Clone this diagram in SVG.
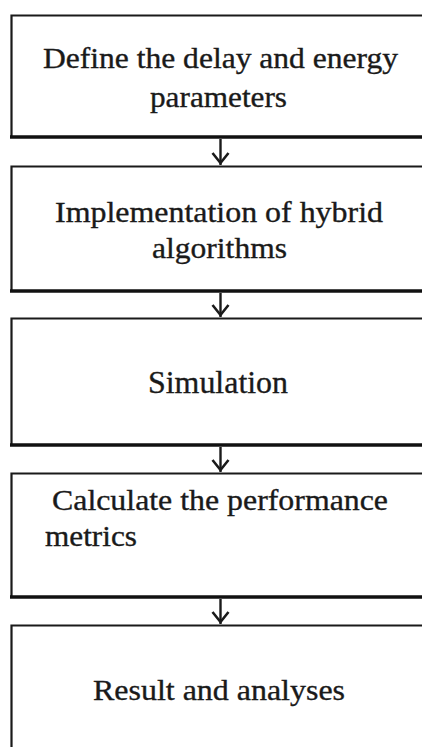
<svg xmlns="http://www.w3.org/2000/svg" width="422" height="747" viewBox="0 0 422 747">
<defs>
<style>
.bx{fill:#fff;stroke:#1a1a1a;stroke-width:2.2}
.bb{stroke:#111;stroke-width:3.6;fill:none}
.t{font-family:"Liberation Serif","Times New Roman",serif;font-size:30px;fill:#1a1a1a;stroke:#1a1a1a;stroke-width:0.35}
.c{text-anchor:middle}
.cn line{stroke:#1a1a1a;stroke-width:2.4}
.cn polyline{stroke:#1a1a1a;stroke-width:2.6;fill:none}
</style>
</defs>
<rect width="422" height="747" fill="#fff"/>
<g id="n1">
<path class="bx" d="M424,15.5 H11.5 V137"/>
<line class="bb" x1="10" y1="137" x2="424" y2="137"/>
<text class="t c" x="220.5" y="68" textLength="355" lengthAdjust="spacingAndGlyphs">Define the delay and energy</text>
<text class="t c" x="218.5" y="107" textLength="137" lengthAdjust="spacingAndGlyphs">parameters</text>
</g>
<g id="n2">
<path class="bx" d="M424,166.5 H11.5 V291"/>
<line class="bb" x1="10" y1="291" x2="424" y2="291"/>
<text class="t c" x="219" y="222" textLength="328" lengthAdjust="spacingAndGlyphs">Implementation of hybrid</text>
<text class="t c" x="219.5" y="258" textLength="135" lengthAdjust="spacingAndGlyphs">algorithms</text>
</g>
<g id="n3">
<path class="bx" d="M424,318.5 H11.5 V445"/>
<line class="bb" x1="10" y1="445" x2="424" y2="445"/>
<text class="t c" x="218" y="393" style="font-size:32px" textLength="140" lengthAdjust="spacingAndGlyphs">Simulation</text>
</g>
<g id="n4">
<path class="bx" d="M424,473.5 H11.5 V597"/>
<line class="bb" x1="10" y1="597" x2="424" y2="597"/>
<text class="t" x="52" y="510" textLength="336" lengthAdjust="spacingAndGlyphs">Calculate the performance</text>
<text class="t" x="45" y="546" textLength="92" lengthAdjust="spacingAndGlyphs">metrics</text>
</g>
<g id="n5">
<path class="bx" d="M424,625.5 H11.5 V750"/>
<text class="t c" x="219" y="700" textLength="252" lengthAdjust="spacingAndGlyphs">Result and analyses</text>
</g>
<g id="connectors" class="cn">
<line x1="220.5" y1="139" x2="220.5" y2="165"/>
<polyline points="212.5,153 220.5,163 228.5,153"/>
<line x1="220.5" y1="293" x2="220.5" y2="317"/>
<polyline points="212.5,305 220.5,315 228.5,305"/>
<line x1="220.5" y1="447" x2="220.5" y2="472"/>
<polyline points="212.5,460 220.5,470 228.5,460"/>
<line x1="220.5" y1="599" x2="220.5" y2="624"/>
<polyline points="212.5,612 220.5,622 228.5,612"/>
</g>
</svg>
